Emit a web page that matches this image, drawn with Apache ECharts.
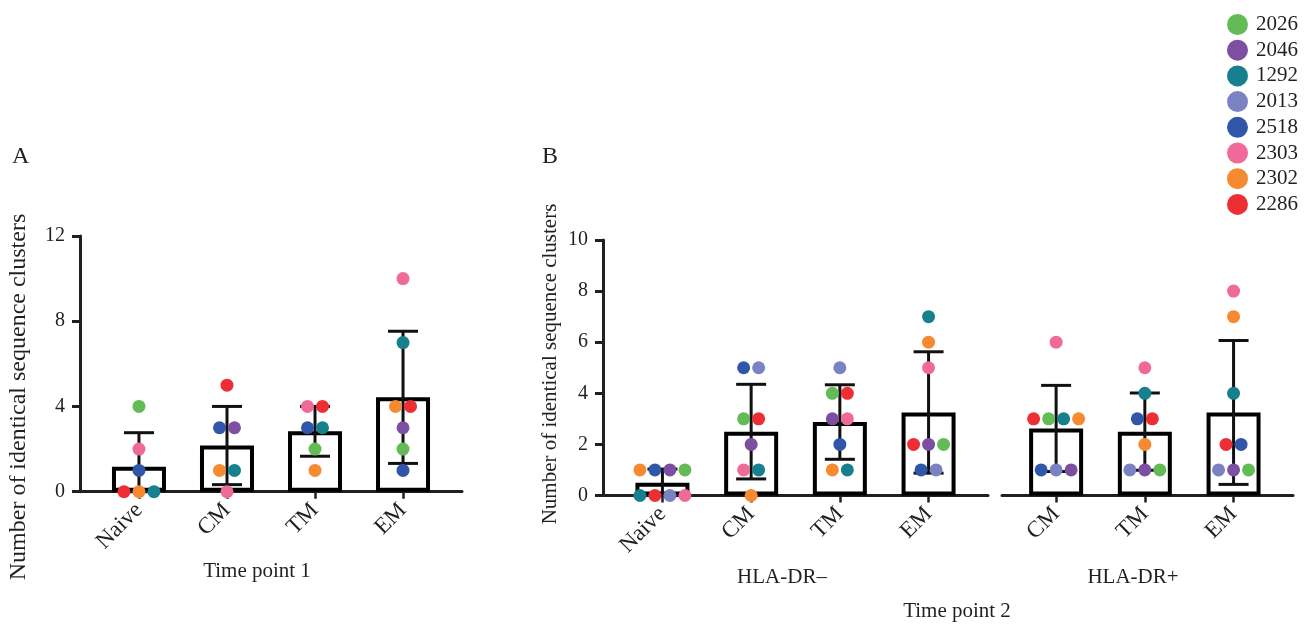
<!DOCTYPE html>
<html>
<head>
<meta charset="utf-8">
<script src="https://cdn.jsdelivr.net/npm/echarts@6.0.0/dist/echarts.min.js"></script>
<style>
  html, body { margin: 0; padding: 0; background: #fff; }
  #main { width: 1313px; height: 625px; }
</style>
</head>
<body>
<div id="main"></div>
<script>
// donors (legend order) and their colours
const donors = ['2026', '2046', '1292', '2013', '2518', '2303', '2302', '2286'];
const donorColors = ['#63bb56', '#7c4fa2', '#17808f', '#7b82c3', '#2f56a8', '#ef6a98', '#f58a31', '#ed2f35'];

// categories
const tp1Cats = ['Naive', 'CM', 'TM', 'EM'];
const drNegCats = ['Naive', 'CM', 'TM', 'EM'];
const drPosCats = ['CM', 'TM', 'EM'];
const yTicksA = [0, 4, 8, 12];
const yTicksB = [0, 2, 4, 6, 8, 10];

// [donor, value] per category (ties listed left to right)
const tp1Naive = [['2026', 4], ['2303', 2], ['2518', 1], ['2286', 0], ['2302', 0], ['1292', 0]];
const tp1CM = [['2286', 5], ['2518', 3], ['2046', 3], ['2302', 1], ['1292', 1], ['2303', 0]];
const tp1TM = [['2303', 4], ['2286', 4], ['2518', 3], ['1292', 3], ['2026', 2], ['2302', 1]];
const tp1EM = [['2303', 10], ['1292', 7], ['2302', 4], ['2286', 4], ['2046', 3], ['2026', 2], ['2518', 1]];

const negNaive = [['2302', 1], ['2518', 1], ['2046', 1], ['2026', 1], ['1292', 0], ['2286', 0], ['2013', 0], ['2303', 0]];
const negCM = [['2518', 5], ['2013', 5], ['2026', 3], ['2286', 3], ['2046', 2], ['2303', 1], ['1292', 1], ['2302', 0]];
const negTM = [['2013', 5], ['2026', 4], ['2286', 4], ['2046', 3], ['2303', 3], ['2518', 2], ['2302', 1], ['1292', 1]];
const negEM = [['1292', 7], ['2302', 6], ['2303', 5], ['2286', 2], ['2046', 2], ['2026', 2], ['2518', 1], ['2013', 1]];

const posCM = [['2303', 6], ['2286', 3], ['2026', 3], ['1292', 3], ['2302', 3], ['2518', 1], ['2013', 1], ['2046', 1]];
const posTM = [['2303', 5], ['1292', 4], ['2518', 3], ['2286', 3], ['2302', 2], ['2013', 1], ['2046', 1], ['2026', 1]];
const posEM = [['2303', 8], ['2302', 7], ['1292', 4], ['2286', 2], ['2518', 2], ['2013', 1], ['2046', 1], ['2026', 1]];

const FONT = '"Liberation Serif", "DejaVu Serif", serif';
const INK = '#231f20';

// grids: A, B (HLA-DR-), B (HLA-DR+)
const panels = [
  { groups: [tp1Naive, tp1CM, tp1TM, tp1EM], cats: tp1Cats, ticks: yTicksA, left: 80, top: 236, width: 382, height: 255.7, min: -0.67, max: 3.67, showY: true },
  { groups: [negNaive, negCM, negTM, negEM], cats: drNegCats, ticks: yTicksB, left: 603, top: 240, width: 385, height: 255.5, min: -0.67, max: 3.67, showY: true },
  { groups: [posCM, posTM, posEM], cats: drPosCats, ticks: yTicksB, left: 1002, top: 240, width: 291, height: 255.5, min: -0.61, max: 2.67, showY: false }
];

const dotGapPx = 15;

function stats(grp) {
  const v = grp.map(p => p[1]);
  const n = v.length;
  const m = v.reduce((a, b) => a + b, 0) / n;
  const sd = Math.sqrt(v.reduce((a, b) => a + (b - m) * (b - m), 0) / (n - 1));
  return { m, sd };
}

function placeDots(groups, unitPx) {
  const out = {};
  donors.forEach(d => { out[d] = []; });
  groups.forEach((grp, ci) => {
    const byVal = {};
    grp.forEach(([d, v]) => { (byVal[v] = byVal[v] || []).push(d); });
    Object.keys(byVal).forEach(v => {
      const list = byVal[v];
      list.forEach((d, k) => {
        out[d].push([ci + (k - (list.length - 1) / 2) * dotGapPx / unitPx, +v]);
      });
    });
  });
  return out;
}

const grid = [], xAxis = [], yAxis = [], series = [];

panels.forEach((p, gi) => {
  grid.push({ left: p.left, top: p.top, width: p.width, height: p.height, outerBoundsMode: 'none' });
  const idx = p.cats.map((c, i) => i);
  xAxis.push({
    type: 'value', gridIndex: gi, min: p.min, max: p.max,
    splitLine: { show: false },
    axisLine: { show: true, onZero: false, lineStyle: { color: INK, width: 3 } },
    axisTick: { show: true, customValues: idx, length: 7, lineStyle: { color: INK, width: 2.5 } },
    axisLabel: {
      customValues: idx, rotate: 45, margin: 15,
      formatter: v => p.cats[Math.round(v)],
      fontFamily: FONT, fontSize: 23, color: INK
    }
  });
  const t = p.ticks;
  yAxis.push({
    type: 'value', gridIndex: gi, min: t[0], max: t[t.length - 1], interval: t[1] - t[0], show: p.showY,
    splitLine: { show: false },
    axisLine: { show: true, onZero: false, lineStyle: { color: INK, width: 3 } },
    axisTick: { show: true, length: 8, lineStyle: { color: INK, width: 3 } },
    axisLabel: { margin: 15, fontFamily: FONT, fontSize: 20, color: INK }
  });

  const st = p.groups.map(stats);
  series.push({
    type: 'bar', xAxisIndex: gi, yAxisIndex: gi, z: 1,
    barWidth: 54, silent: true,
    itemStyle: { color: '#fff', borderColor: '#000', borderWidth: 4 },
    data: st.map((s, i) => [i, s.m])
  });
  series.push({
    type: 'custom', xAxisIndex: gi, yAxisIndex: gi, z: 2, silent: true,
    encode: { x: 0, y: [1, 2] },
    data: st.map((s, i) => [i, Math.max(0, s.m - s.sd), s.m + s.sd]),
    renderItem: (params, api) => {
      const x = api.value(0);
      const lo = api.coord([x, api.value(1)]);
      const hi = api.coord([x, api.value(2)]);
      const half = 15;
      const style = { stroke: '#111', lineWidth: 3 };
      return {
        type: 'group',
        children: [
          { type: 'line', shape: { x1: lo[0], y1: lo[1], x2: hi[0], y2: hi[1] }, style },
          { type: 'line', shape: { x1: hi[0] - half, y1: hi[1], x2: hi[0] + half, y2: hi[1] }, style },
          { type: 'line', shape: { x1: lo[0] - half, y1: lo[1], x2: lo[0] + half, y2: lo[1] }, style }
        ]
      };
    }
  });

  const unitPx = p.width / (p.max - p.min);
  const dots = placeDots(p.groups, unitPx);
  donors.forEach((d, di) => {
    series.push({
      name: d, type: 'scatter', xAxisIndex: gi, yAxisIndex: gi, z: 3,
      symbol: 'circle', symbolSize: 13,
      itemStyle: { color: donorColors[di], opacity: 1 },
      data: dots[d]
    });
  });
});

const chart = echarts.init(document.getElementById('main'));
chart.setOption({
  animation: false,
  backgroundColor: '#fff',
  legend: {
    data: donors, orient: 'vertical', left: 1222, top: 9,
    icon: 'circle', itemWidth: 21, itemHeight: 21, itemGap: 4.7,
    selectedMode: false,
    textStyle: { fontFamily: FONT, fontSize: 21, color: INK, lineHeight: 21, padding: [0, 0, 0, 3] }
  },
  grid, xAxis, yAxis, series,
  graphic: [
    { type: 'text', left: 12, top: 145, style: { text: 'A', font: '24px ' + FONT, fill: INK } },
    { type: 'text', left: 542, top: 145, style: { text: 'B', font: '24px ' + FONT, fill: INK } },
    { type: 'text', x: 19, y: 397, rotation: Math.PI / 2,
      style: { text: 'Number of identical sequence clusters', font: '24px ' + FONT, fill: INK, align: 'center', verticalAlign: 'middle' } },
    { type: 'text', x: 550, y: 364, rotation: Math.PI / 2,
      style: { text: 'Number of identical sequence clusters', font: '21px ' + FONT, fill: INK, align: 'center', verticalAlign: 'middle' } },
    { type: 'text', x: 257, y: 571, style: { text: 'Time point 1', font: '21px ' + FONT, fill: INK, align: 'center', verticalAlign: 'middle' } },
    { type: 'text', x: 782, y: 577, style: { text: 'HLA-DR\u2013', font: '21px ' + FONT, fill: INK, align: 'center', verticalAlign: 'middle' } },
    { type: 'text', x: 1133, y: 577, style: { text: 'HLA-DR+', font: '21px ' + FONT, fill: INK, align: 'center', verticalAlign: 'middle' } },
    { type: 'text', x: 957, y: 611, style: { text: 'Time point 2', font: '21px ' + FONT, fill: INK, align: 'center', verticalAlign: 'middle' } }
  ]
});
</script>
</body>
</html>
